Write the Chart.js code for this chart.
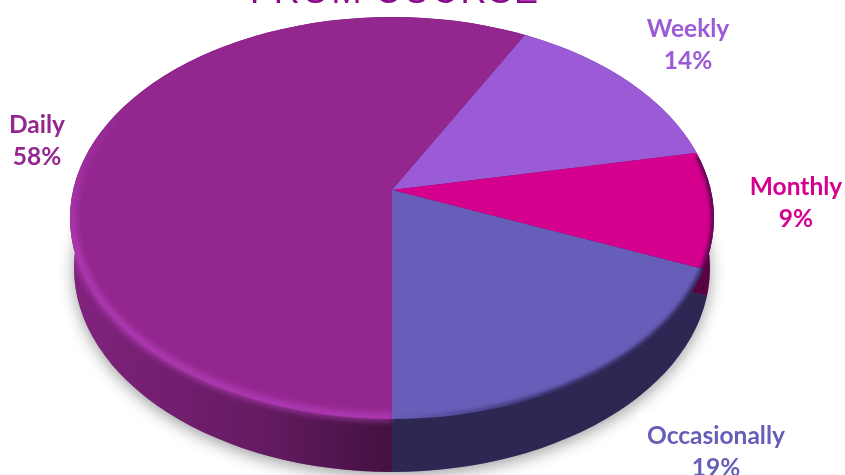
<!DOCTYPE html>
<html>
<head>
<meta charset="utf-8">
<style>
html,body{margin:0;padding:0;background:#fff;overflow:hidden}
canvas{display:block}
</style>
<script src="https://cdn.jsdelivr.net/npm/chart.js@4/dist/chart.umd.min.js"></script>
</head>
<body>
<canvas id="c" width="845" height="475"></canvas>
<script>
const titleText = "FROM COURSE";
const categories = ["Daily", "Weekly", "Monthly", "Occasionally"];
const shares = [58, 14, 9, 19];
const sliceColors = ["#93278f", "#9c5bd6", "#d6008f", "#665eb8"];

// label anchors (centre x, first-line y)
const labelAnchors = [[37, 125], [688, 29], [796, 187], [716, 436]];

// projection of the disc
const apex = {x: 392, y: 190};
const topRim = {x: 392, y: 218, rx: 322, ry: 201};
const baseRim = {x: 392, y: 268, rx: 318, ry: 204};
const depth = 26, spanX = 440, spanY = 282;

function ellipsePath(ctx, e, a0 = 0, a1 = Math.PI * 2) {
  ctx.ellipse(e.x, e.y, e.rx, e.ry, 0, a0, a1);
}
function hullPath(ctx) {
  ctx.beginPath();
  ellipsePath(ctx, topRim);
  ctx.closePath();
  ctx.moveTo(baseRim.x + baseRim.rx, baseRim.y);
  ellipsePath(ctx, baseRim);
}
function project(ctx, chart, dy) {
  const arc = chart.getDatasetMeta(0).data[0];
  const R = arc.outerRadius;
  ctx.translate(apex.x, apex.y + dy);
  ctx.scale(spanX / R, spanY / R);
  ctx.translate(-arc.x, -arc.y);
}

const discPlugin = {
  id: "disc",
  beforeDatasetsDraw(chart) {
    const ctx = chart.ctx;
    // side wall: the same slices, pushed down and shaded
    ctx.save();
    hullPath(ctx);
    ctx.clip();
    ctx.save();
    project(ctx, chart, depth);
    chart.getDatasetMeta(0).data.forEach(a => a.draw(ctx));
    ctx.restore();
    ctx.globalCompositeOperation = "source-atop";
    const g = ctx.createLinearGradient(70, 0, 714, 0);
    g.addColorStop(0, "rgba(0,0,0,0.12)");
    g.addColorStop(0.3, "rgba(0,0,0,0.32)");
    g.addColorStop(0.4995, "rgba(0,0,0,0.55)");
    g.addColorStop(0.5, "rgba(10,5,20,0.62)");
    g.addColorStop(1, "rgba(10,5,20,0.62)");
    ctx.fillStyle = g;
    ctx.fillRect(0, 0, 845, 475);
    ctx.restore();
    // top face: clip to rim, then let the library draw its slices
    ctx.save();
    ctx.beginPath();
    ellipsePath(ctx, topRim);
    ctx.clip();
    project(ctx, chart, 0);
  },
  afterDatasetsDraw(chart) {
    const ctx = chart.ctx;
    ctx.restore();
    // bevel: light on the lower left
    ctx.save();
    hullPath(ctx);
    ctx.clip();
    ctx.filter = "blur(3px)";
    ctx.lineWidth = 8;
    ctx.lineCap = "butt";
    const lg = ctx.createLinearGradient(60, 100, 60, 240);
    lg.addColorStop(0, "rgba(196,72,206,0)");
    lg.addColorStop(1, "rgba(196,72,206,0.6)");
    ctx.strokeStyle = lg;
    ctx.beginPath();
    ellipsePath(ctx, {...topRim, rx: topRim.rx - 2, ry: topRim.ry - 2}, Math.PI * 0.5, Math.PI * 1.2);
    ctx.stroke();
    ctx.restore();
    // bevel: dark on the lower right
    ctx.save();
    ctx.beginPath();
    ellipsePath(ctx, topRim);
    ctx.clip();
    ctx.filter = "blur(2px)";
    ctx.lineWidth = 5;
    const dg = ctx.createLinearGradient(392, 0, 560, 0);
    dg.addColorStop(0, "rgba(25,15,50,0)");
    dg.addColorStop(1, "rgba(25,15,50,0.85)");
    ctx.strokeStyle = dg;
    ctx.beginPath();
    ellipsePath(ctx, topRim, -Math.PI * 0.1, Math.PI * 0.5);
    ctx.stroke();
    ctx.restore();
    // soft cast shadow behind everything
    ctx.save();
    ctx.globalCompositeOperation = "destination-over";
    ctx.shadowColor = "rgba(0,0,0,0.38)";
    ctx.shadowBlur = 16;
    ctx.shadowOffsetY = 4;
    ctx.fillStyle = "#888";
    ctx.beginPath();
    ellipsePath(ctx, baseRim);
    ctx.fill();
    ctx.restore();
    // white box behind the lower label
    ctx.save();
    ctx.fillStyle = "#fff";
    ctx.fillRect(637, 413, 208, 62);
    ctx.restore();
    // title, cut off by the top of the page
    ctx.save();
    ctx.fillStyle = "#8a0a8a";
    ctx.font = '36px "Liberation Sans"';
    ctx.letterSpacing = "1.8px";
    ctx.textAlign = "left";
    ctx.textBaseline = "alphabetic";
    ctx.fillText(titleText, 250, 3);
    ctx.restore();
    // labels
    ctx.save();
    ctx.font = 'bold 24.5px Lato';
    ctx.textAlign = "center";
    ctx.textBaseline = "middle";
    categories.forEach((name, i) => {
      const [x, y] = labelAnchors[i];
      ctx.fillStyle = sliceColors[i];
      ctx.fillText(name, x, y);
      ctx.fillText(shares[i] + "%", x, y + 32.5);
    });
    ctx.restore();
  }
};

new Chart(document.getElementById("c"), {
  type: "pie",
  data: {
    labels: categories,
    datasets: [{data: shares, backgroundColor: sliceColors, borderWidth: 0}]
  },
  options: {
    responsive: false,
    animation: false,
    rotation: 180,
    layout: {padding: 0},
    plugins: {legend: {display: false}, title: {display: false}, tooltip: {enabled: false}}
  },
  plugins: [discPlugin]
});
</script>
</body>
</html>
